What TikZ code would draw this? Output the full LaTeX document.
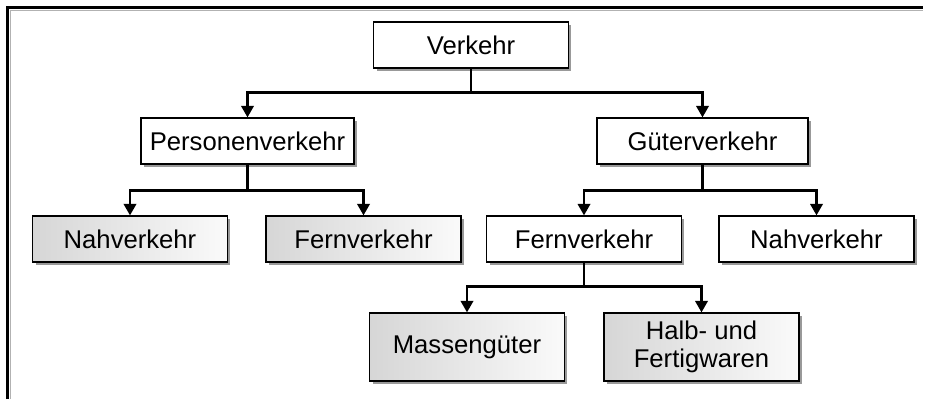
\documentclass[tikz,border=0pt]{standalone}
\usepackage{xcolor}
\usepackage{fontspec}
\setmainfont{Liberation Sans}
\usetikzlibrary{arrows.meta,shadows}

\begin{document}
\begin{tikzpicture}[
		x=0.02cm, y=-0.02cm,
		box/.style = {draw, line width=0.7pt, fill=white, inner sep=0pt,
			minimum width=3.9cm, minimum height=0.92cm, align=center,
			font=\fontsize{14.6}{16}\selectfont,
			drop shadow={shadow xshift=0.06cm, shadow yshift=-0.06cm, fill=gray!80, opacity=1}},
		greybox/.style = {box, left color=gray!32, right color=gray!4},
		conn/.style = {line width=1.4pt, -{Triangle[width=7pt,length=6.5pt]}}
	]
	% frame of the picture
	\useasboundingbox (0,0) rectangle (925,399);
	\draw[gray!60, line width=0.7pt] (10.5,399) -- (10.5,10.5) -- (923,10.5);
	\draw[line width=1.6pt] (7.5,399) -- (7.5,7.5) -- (923,7.5);
	
	% the tree
	\node[box] (verkehr) at (471,45) {Verkehr};
	\node[box, minimum width=4.26cm] (personen) at (247.5,141) {Personenverkehr};
	\node[box, minimum width=4.22cm] (gueter) at (702.5,141) {Güterverkehr};
	\node[greybox] (pnah) at (130,239) {Nahverkehr};
	\node[greybox] (pfern) at (363.5,239) {Fernverkehr};
	\node[box] (gfern) at (584,239) {Fernverkehr};
	\node[box] (gnah) at (816.5,239) {Nahverkehr};
	\node[greybox, minimum height=1.36cm] (masse) at (467,347) {Massengüter};
	\node[greybox, minimum height=1.36cm] (halb) at (701.5,347) {Halb- und\\Fertigwaren};
	
	% connectors
	\draw[conn] (verkehr.south) -- ++(0,24) -| (personen.north);
	\draw[conn] (verkehr.south) -- ++(0,24) -| (gueter.north);
	\draw[conn] (personen.south) -- ++(0,26) -| (pnah.north);
	\draw[conn] (personen.south) -- ++(0,26) -| (pfern.north);
	\draw[conn] (gueter.south) -- ++(0,26) -| (gfern.north);
	\draw[conn] (gueter.south) -- ++(0,26) -| (gnah.north);
	\draw[conn] (gfern.south) -- ++(0,24) -| (masse.north);
	\draw[conn] (gfern.south) -- ++(0,24) -| (halb.north);
\end{tikzpicture}
\end{document}
